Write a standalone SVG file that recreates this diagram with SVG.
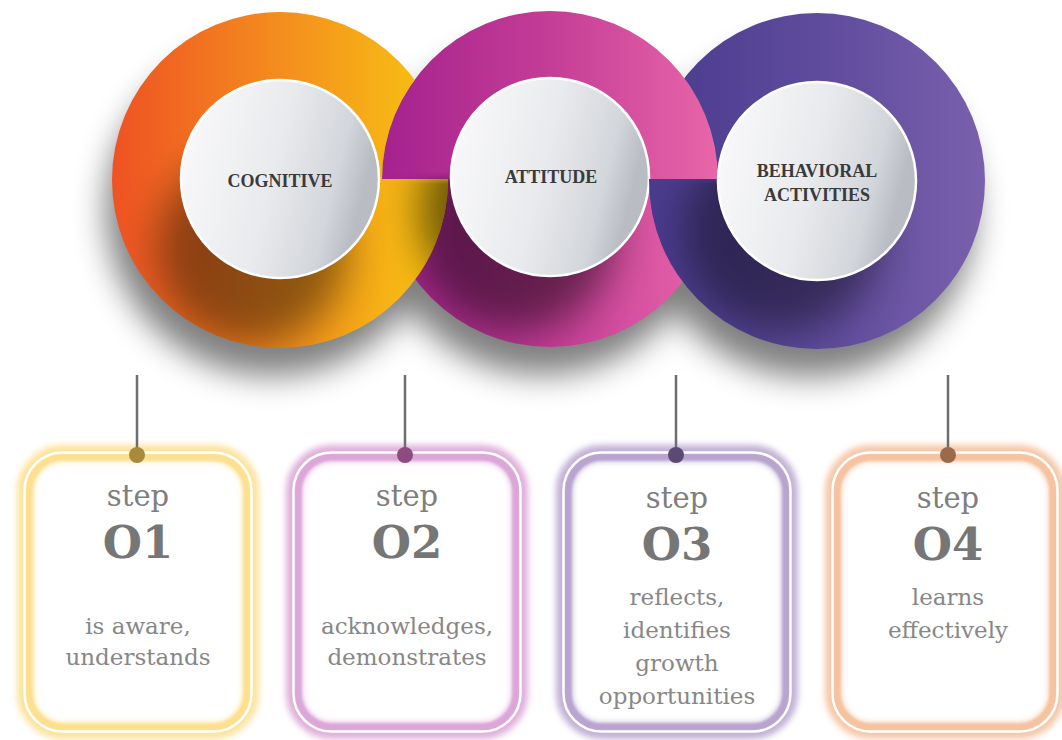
<svg xmlns="http://www.w3.org/2000/svg" width="1062" height="740" viewBox="0 0 1062 740">
<style>
.lbl{font-family:"Liberation Serif","Times New Roman",serif;font-weight:bold;font-size:18px;fill:#3a3a3a;text-anchor:middle}
.step{font-family:"DejaVu Serif","Liberation Serif",serif;font-size:29px;fill:#7e7e7e;text-anchor:middle}
.num{font-family:"DejaVu Serif","Liberation Serif",serif;font-weight:bold;font-size:45px;fill:#767676;text-anchor:middle}
.body{font-family:"DejaVu Serif","Liberation Serif",serif;font-size:23px;fill:#878787;text-anchor:middle}
.wc{fill:url(#gW);stroke:#ffffff;stroke-width:2.5}
.glow{fill:none;stroke-width:16;filter:url(#fGlow);opacity:.75}
.core{fill:none;stroke-width:7;filter:url(#fSoft)}
.rim{fill:none;stroke:#ffffff;stroke-width:2.5}
.shade{fill:#000}
.conn{stroke:#6e6e6e;stroke-width:2.5;fill:none}
</style>
<defs>
<linearGradient id="gO" x1="0" y1="0" x2="1" y2="0">
<stop offset="0" stop-color="#ef5223"/><stop offset="0.5" stop-color="#f48d1e"/><stop offset="0.85" stop-color="#f7b615"/><stop offset="1" stop-color="#f5c20c"/>
</linearGradient>
<linearGradient id="gM" x1="0" y1="0" x2="1" y2="0">
<stop offset="0" stop-color="#a5228e"/><stop offset="0.5" stop-color="#c43d96"/><stop offset="1" stop-color="#e866a9"/>
</linearGradient>
<linearGradient id="gP" x1="0" y1="0" x2="1" y2="0">
<stop offset="0" stop-color="#4a3b8e"/><stop offset="0.5" stop-color="#5e4b9c"/><stop offset="1" stop-color="#7a60ad"/>
</linearGradient>
<linearGradient id="gW" x1="0" y1="0" x2="1" y2="0.25">
<stop offset="0" stop-color="#fbfbfc"/><stop offset="0.55" stop-color="#e9eaed"/><stop offset="0.85" stop-color="#d3d6db"/><stop offset="1" stop-color="#b9bcc3"/>
</linearGradient>
<linearGradient id="gMaskLow" gradientUnits="userSpaceOnUse" x1="0" y1="172" x2="0" y2="184">
<stop offset="0" stop-color="#000"/><stop offset="1" stop-color="#fff"/>
</linearGradient>
<filter id="fBig" x="-20%" y="-20%" width="140%" height="160%"><feGaussianBlur stdDeviation="16"/></filter>
<filter id="fShade" x="-50%" y="-50%" width="200%" height="200%"><feGaussianBlur stdDeviation="20"/></filter>
<filter id="fGlow" x="-10%" y="-10%" width="120%" height="120%"><feGaussianBlur stdDeviation="3"/></filter>
<filter id="fSoft" x="-10%" y="-10%" width="120%" height="120%"><feGaussianBlur stdDeviation="1"/></filter>
<mask id="mTopM" maskUnits="userSpaceOnUse" x="0" y="0" width="1062" height="740">
<rect x="0" y="0" width="1062" height="740" fill="#fff"/>
<path d="M382,179 A168,168 0 0 1 718,179 Z" fill="#000"/>
</mask>
<mask id="mLow" maskUnits="userSpaceOnUse" x="0" y="0" width="1062" height="740">
<rect x="0" y="0" width="1062" height="740" fill="url(#gMaskLow)"/>
</mask>
<clipPath id="cO"><circle cx="280" cy="180" r="168"/></clipPath>
<clipPath id="cM"><circle cx="550" cy="179" r="168"/></clipPath>
<clipPath id="cP"><circle cx="817" cy="181" r="168"/></clipPath>
</defs>
<rect x="0" y="0" width="1062" height="740" fill="#ffffff"/>

<g id="ring-shadow" filter="url(#fBig)" opacity="0.5">
<circle cx="272" cy="210" r="166"/>
<circle cx="542" cy="209" r="166"/>
<circle cx="809" cy="211" r="166"/>
</g>

<g id="node-attitude">
<circle cx="550" cy="179" r="168" fill="url(#gM)"/>
<g clip-path="url(#cM)"><g mask="url(#mLow)"><circle class="shade" cx="515" cy="232" r="100" filter="url(#fShade)" opacity="0.48"/></g></g>
<circle class="wc" cx="550" cy="177" r="99"/>
<text class="lbl" x="551" y="183">ATTITUDE</text>
</g>

<g id="node-cognitive">
<g mask="url(#mTopM)">
<circle cx="280" cy="180" r="168" fill="url(#gO)"/>
<g clip-path="url(#cO)">
<circle class="shade" cx="252" cy="250" r="95" filter="url(#fShade)" opacity="0.42"/>
<g mask="url(#mLow)"><circle class="shade" cx="520" cy="210" r="100" filter="url(#fShade)" opacity="0.55"/></g>
</g>
</g>
<circle class="wc" cx="280" cy="179" r="99"/>
<text class="lbl" x="280" y="187">COGNITIVE</text>
</g>

<g id="node-behavioral">
<g mask="url(#mTopM)">
<circle cx="817" cy="181" r="168" fill="url(#gP)"/>
<g clip-path="url(#cP)"><g mask="url(#mLow)"><circle class="shade" cx="782" cy="232" r="100" filter="url(#fShade)" opacity="0.42"/></g></g>
</g>
<circle class="wc" cx="817" cy="181" r="99"/>
<text class="lbl" x="817" y="177">BEHAVIORAL</text>
<text class="lbl" x="817" y="201">ACTIVITIES</text>
</g>

<g id="step-1">
<rect x="25" y="453" width="226" height="278" rx="38" fill="#ffffff"/>
<rect class="glow" x="25" y="453" width="226" height="278" rx="38" stroke="#fcd97a"/>
<rect class="core" x="29" y="457" width="218" height="270" rx="34" stroke="#fde08f"/>
<rect class="rim" x="24.5" y="452.5" width="227" height="279" rx="38"/>
<text class="step" x="138" y="506">step</text>
<text class="num" x="138" y="558">O1</text>
<text class="body" x="138" y="634">is aware,</text>
<text class="body" x="138" y="665">understands</text>
</g>

<g id="step-2">
<rect x="294" y="453" width="226" height="278" rx="38" fill="#ffffff"/>
<rect class="glow" x="294" y="453" width="226" height="278" rx="38" stroke="#d594cf"/>
<rect class="core" x="298" y="457" width="218" height="270" rx="34" stroke="#dca6d8"/>
<rect class="rim" x="293.5" y="452.5" width="227" height="279" rx="38"/>
<text class="step" x="407" y="506">step</text>
<text class="num" x="407" y="558">O2</text>
<text class="body" x="407" y="634">acknowledges,</text>
<text class="body" x="407" y="665">demonstrates</text>
</g>

<g id="step-3">
<rect x="564" y="453" width="226" height="278" rx="38" fill="#ffffff"/>
<rect class="glow" x="564" y="453" width="226" height="278" rx="38" stroke="#ad96c8"/>
<rect class="core" x="568" y="457" width="218" height="270" rx="34" stroke="#b8a4cf"/>
<rect class="rim" x="563.5" y="452.5" width="227" height="279" rx="38"/>
<text class="step" x="677" y="508">step</text>
<text class="num" x="677" y="560">O3</text>
<text class="body" x="677" y="605">reflects,</text>
<text class="body" x="677" y="638">identifies</text>
<text class="body" x="677" y="671">growth</text>
<text class="body" x="677" y="704">opportunities</text>
</g>

<g id="step-4">
<rect x="833" y="453" width="224" height="278" rx="38" fill="#ffffff"/>
<rect class="glow" x="833" y="453" width="224" height="278" rx="38" stroke="#f3b48a"/>
<rect class="core" x="837" y="457" width="216" height="270" rx="34" stroke="#f6c29f"/>
<rect class="rim" x="832.5" y="452.5" width="225" height="279" rx="38"/>
<text class="step" x="948" y="508">step</text>
<text class="num" x="948" y="560">O4</text>
<text class="body" x="948" y="605">learns</text>
<text class="body" x="948" y="638">effectively</text>
</g>

<g id="connectors">
<line class="conn" x1="137" y1="375" x2="137" y2="455"/>
<line class="conn" x1="405" y1="375" x2="405" y2="455"/>
<line class="conn" x1="676" y1="375" x2="676" y2="455"/>
<line class="conn" x1="948" y1="375" x2="948" y2="455"/>
<circle cx="137" cy="455" r="8" fill="#a98a3c"/>
<circle cx="405" cy="455" r="8" fill="#8d4b82"/>
<circle cx="676" cy="455" r="8" fill="#5c4a74"/>
<circle cx="948" cy="455" r="8" fill="#9b6a4b"/>
</g>
</svg>
